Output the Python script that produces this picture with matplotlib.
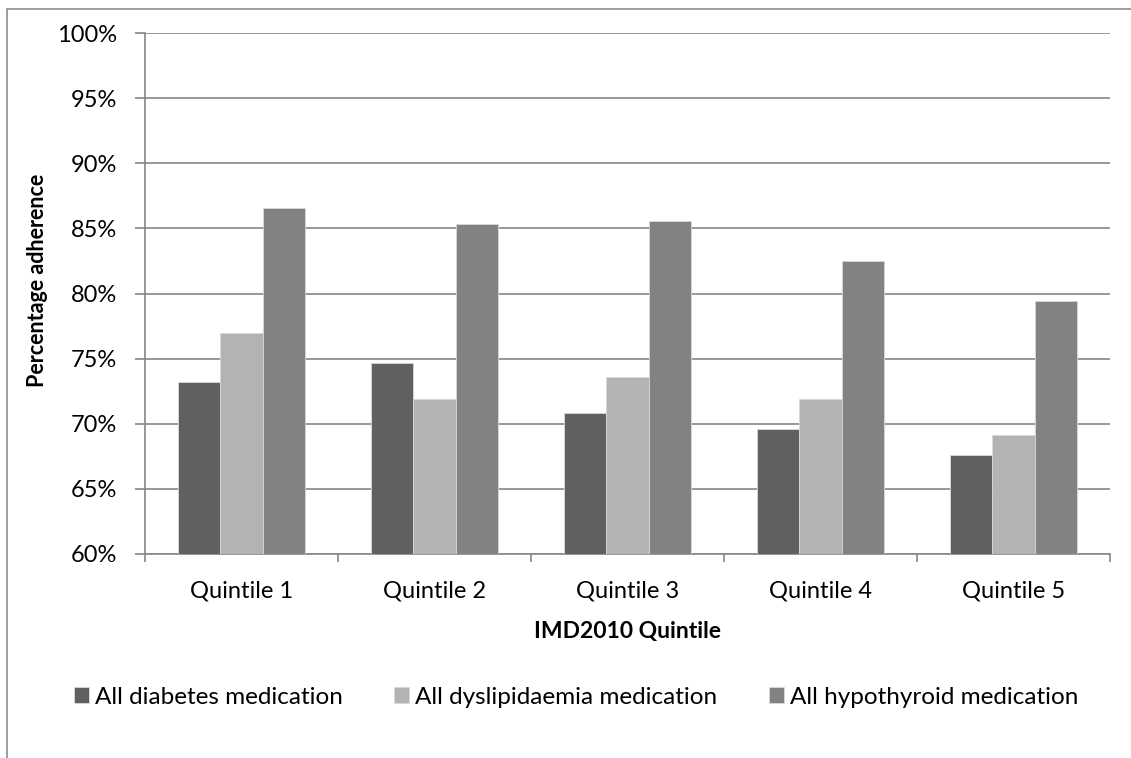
import numpy as np
import matplotlib.pyplot as plt
from matplotlib.patches import Rectangle
from matplotlib.ticker import FuncFormatter

plt.rcParams['font.family'] = ['Lato', 'DejaVu Sans']

# Data
quintiles = ["Quintile 1", "Quintile 2", "Quintile 3", "Quintile 4", "Quintile 5"]
diabetes = [73.2, 74.7, 70.8, 69.6, 67.6]
dyslipidaemia = [77.0, 71.9, 73.6, 71.9, 69.1]
hypothyroid = [86.6, 85.3, 85.6, 82.5, 79.4]

series = [
    ("All diabetes medication", diabetes, "#606060"),
    ("All dyslipidaemia medication", dyslipidaemia, "#b3b3b3"),
    ("All hypothyroid medication", hypothyroid, "#828282"),
]

W, H = 1131, 758
fig = plt.figure(figsize=(W / 100, H / 100), dpi=100)
ax = fig.add_axes([145 / W, 1 - 554 / H, 965 / W, 521 / H])

# outer chart border (runs off the right and bottom edge of the image)
fig.patches.append(Rectangle((7 / W, -0.1), 1.2, 1.1 - 9 / H, transform=fig.transFigure,
                             fill=False, edgecolor="#8c8c8c", linewidth=1.2))

x = np.arange(len(quintiles))
w = 0.221
for i, (name, vals, col) in enumerate(series):
    ax.bar(x + (i - 1) * w, vals, width=w, color=col, edgecolor="#d9d9d9",
           linewidth=0.6, label=name, zorder=3)

ax.set_ylim(60, 100)
ax.set_xlim(-0.5, 4.5)
ax.set_yticks(np.arange(60, 101, 5))
ax.yaxis.set_major_formatter(FuncFormatter(lambda v, p: f"{v:.0f}%"))
ax.grid(axis="y", color="#868686", linewidth=1.2, zorder=0)

ax.set_xticks(x)
ax.set_xticklabels(quintiles)
ax.set_xticks(np.arange(-0.5, 5, 1), minor=True)
ax.tick_params(axis="x", which="major", length=0, labelsize=17, pad=19)
ax.tick_params(axis="x", which="minor", length=6, color="#868686", width=1.2)
ax.tick_params(axis="y", length=7, color="#868686", width=1.2, labelsize=17, pad=13)

for s in ["top", "right"]:
    ax.spines[s].set_visible(False)
for s in ["left", "bottom"]:
    ax.spines[s].set_color("#868686")
    ax.spines[s].set_linewidth(1.2)

ax.set_xlabel("IMD2010 Quintile", fontsize=16.5, fontweight="bold", labelpad=14)
ax.set_ylabel("Percentage adherence", fontsize=15.5, fontweight="bold")
ax.yaxis.set_label_coords(-0.101, 0.526)

ax.legend(loc="center left", bbox_to_anchor=(62 / W, 1 - 697 / H),
          bbox_transform=fig.transFigure, ncol=3, frameon=False, borderpad=0,
          fontsize=17.5, handlelength=0.62, handleheight=0.62, handletextpad=0.25,
          columnspacing=2.1)

fig.savefig("out.png", dpi=100)
